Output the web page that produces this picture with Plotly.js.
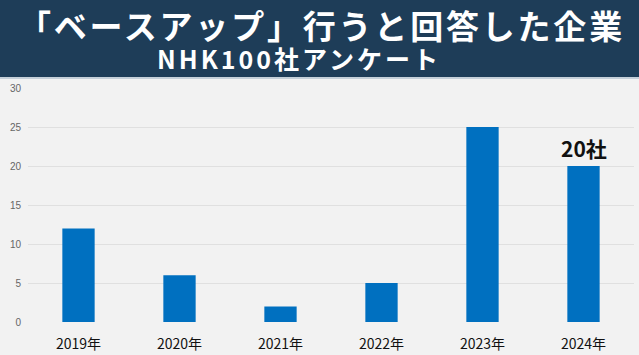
<!DOCTYPE html>
<html><head><meta charset="utf-8">
<script src="https://cdn.plot.ly/plotly-3.0.1.min.js"></script>
<style>html,body{margin:0;padding:0;background:#f2f2f2;}#chart{width:639px;height:355px;}</style>
</head><body><div id="chart"></div>
<script>
const years = ["2019年","2020年","2021年","2022年","2023年","2024年"];
const companies = [12, 6, 2, 5, 25, 20];
const yTicks = [0, 5, 10, 15, 20, 25, 30];
const titleText = "「ベースアップ」行うと回答した企業";
const subtitleText = "NHK100社アンケート";
const labelText = "20社";

const H = 355, T = 88, B = 33;
const ph = H - T - B;
const py = px => 1 + (T - px) / ph; // pixel y -> paper y

const data = [{
  type: 'bar', x: years, y: companies,
  marker: {color: '#0070c0'}, hoverinfo: 'none'
}];
const font = "'Noto Sans CJK JP', 'Noto Sans', sans-serif";
const layout = {
  width: 639, height: 355,
  margin: {l: 28, r: 5, t: T, b: B},
  paper_bgcolor: '#f2f2f2', plot_bgcolor: '#f2f2f2',
  showlegend: false, bargap: 0.68,
  font: {family: font},
  xaxis: {tickfont: {size: 14, color: '#111', family: font}, showgrid: false, zeroline: false, showline: false, ticks: '', ticklabelstandoff: 12},
  yaxis: {range: [0, 30], tickvals: yTicks, ticktext: yTicks.map(String), tickfont: {size: 10, color: '#666', family: "'Liberation Sans', Arial, sans-serif"},
          gridcolor: '#e0e0e0', gridwidth: 1, zeroline: false, ticks: '', ticklabelstandoff: 6},
  shapes: [
    {type: 'rect', xref: 'paper', yref: 'paper', x0: -1, x1: 2, y0: py(77), y1: py(0), fillcolor: '#1e3d58', line: {width: 0}, layer: 'above'},
    {type: 'rect', xref: 'paper', yref: 'paper', x0: -1, x1: 2, y0: py(79), y1: py(77), fillcolor: '#c5d0d9', line: {width: 0}, layer: 'above'}
  ],
  annotations: [
    {text: '<span style="letter-spacing:2.8px">' + titleText + '</span>', xref: 'paper', yref: 'paper', x: (321 - 28) / 606, y: py(25), xanchor: 'center', yanchor: 'middle', showarrow: false,
     font: {size: 33, color: '#ffffff', family: font, weight: 700}},
    {text: '<span style="letter-spacing:3px">' + subtitleText + '</span>', xref: 'paper', yref: 'paper', x: (299 - 28) / 606, y: py(58), xanchor: 'center', yanchor: 'middle', showarrow: false,
     font: {size: 25, color: '#ffffff', family: font, weight: 700}},
    {text: labelText, x: years[5], y: companies[5], xref: 'x', yref: 'y', yshift: 18, yanchor: 'middle', showarrow: false,
     font: {size: 21, color: '#111', family: font, weight: 700}}
  ]
};
Plotly.newPlot('chart', data, layout, {staticPlot: true, displayModeBar: false});
</script></body></html>
